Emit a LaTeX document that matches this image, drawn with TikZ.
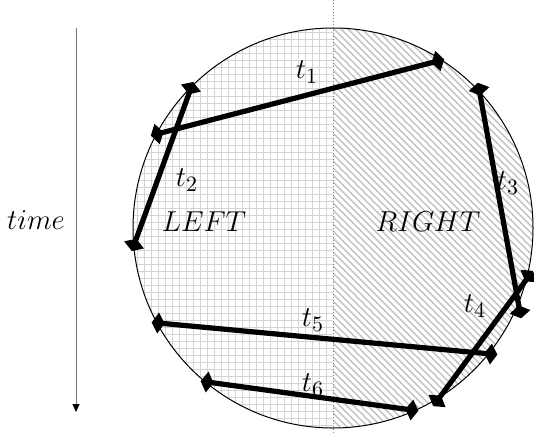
\documentclass[tikz,border=0pt]{standalone}
\usetikzlibrary{arrows.meta, calc}

\begin{document}
\begin{tikzpicture}[x=0.5pt, y=-0.5pt,
        % Style for the chords across the circle
        track/.style={
            line width=2.6pt,
            shorten <=-3.2pt, shorten >=-3.2pt,
            {Diamond[length=6.5pt, width=10.5pt]}-{Diamond[length=6.5pt, width=10.5pt]}
        },
        % Style for the chord labels
        tlabel/.style={
            font=\fontsize{15}{17}\selectfont,
            inner sep=1pt
        },
        % Fill lines of the two halves
        gridline/.style={line width=0.5pt, black!17},
        hatchline/.style={line width=0.65pt, black!27},
        % Time axis on the left
        timeaxis/.style={
            line width=0.5pt,
            black!55,
            -{Triangle[length=4pt, width=3.5pt, black]}
        }
    ]
    \useasboundingbox (0,0) rectangle (534,433);

    \coordinate (c) at (333,228);

    % ==========================================
    % LEFT HALF: GRID
    % ==========================================
    \begin{scope}
        \clip (130,0) rectangle (333,433);
        \clip (c) circle (200);
        \foreach \x in {137,144,...,333}
            \draw[gridline] (\x,20) -- (\x,433);
        \foreach \y in {33,40,...,433}
            \draw[gridline] (130,\y) -- (333,\y);
    \end{scope}

    % ==========================================
    % RIGHT HALF: HATCHING
    % ==========================================
    \begin{scope}
        \clip (333,0) rectangle (540,433);
        \clip (c) circle (200);
        \foreach \k in {-150,-143,...,540}
            \draw[hatchline] (\k,0) -- (\k+450,450);
    \end{scope}

    % circle outline and middle line
    \draw[line width=0.5pt] (c) circle (200);
    \coordinate (midtop) at (333,0);
    \coordinate (midbot) at (333,433);
    \draw[black!50, line width=0.5pt, densely dotted] (midtop) -- (midbot);

    % time axis
    \coordinate (timetop) at (76,28);
    \coordinate (timebot) at (76,412);
    \draw[timeaxis] (timetop) -- (timebot);
    \node[tlabel] (timelbl) at (36,220) {$time$};

    % ==========================================
    % CHORD END POINTS
    % ==========================================
    \coordinate (t1a) at (157,134);
    \coordinate (t1b) at (438,61);
    \coordinate (t2a) at (191,88);
    \coordinate (t2b) at (134,245);
    \coordinate (t3a) at (479,89);
    \coordinate (t3b) at (520,312);
    \coordinate (t4a) at (529,276);
    \coordinate (t4b) at (437,401);
    \coordinate (t5a) at (158,323);
    \coordinate (t5b) at (491,354);
    \coordinate (t6a) at (207,382);
    \coordinate (t6b) at (412,410);

    % chords
    \draw[track] (t1a) -- (t1b);
    \draw[track] (t2a) -- (t2b);
    \draw[track] (t3a) -- (t3b);
    \draw[track] (t4a) -- (t4b);
    \draw[track] (t5a) -- (t5b);
    \draw[track] (t6a) -- (t6b);

    % labels
    \node[tlabel] (lbl1) at (307,72) {$t_1$};
    \node[tlabel] (lbl2) at (187,180) {$t_2$};
    \node[tlabel] (lbl3) at (508,183) {$t_3$};
    \node[tlabel] (lbl4) at (475,306) {$t_4$};
    \node[tlabel] (lbl5) at (313,320) {$t_5$};
    \node[tlabel] (lbl6) at (313,385) {$t_6$};
    \node[tlabel] (left) at (204,222) {$LEFT$};
    \node[tlabel] (right) at (428,222) {$RIGHT$};
  \end{tikzpicture}
\end{document}
